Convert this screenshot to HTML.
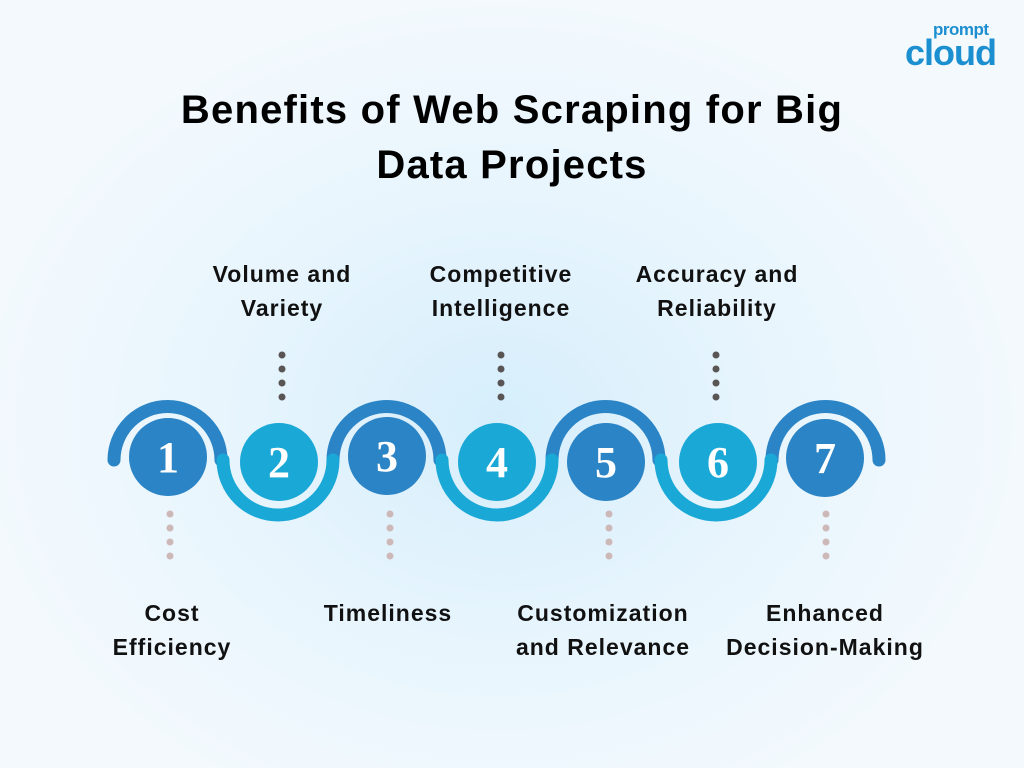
<!DOCTYPE html>
<html><head><style>
body{margin:0;width:1024px;height:768px;overflow:hidden;background:radial-gradient(ellipse 520px 420px at 500px 420px,#d6eefc 0%,#e8f5fd 55%,#f3f9fd 100%);font-family:"Liberation Sans",sans-serif;position:relative}
.t{position:absolute;left:0;width:1024px;text-align:center;font-weight:bold;font-size:40px;color:#000;letter-spacing:1.2px}
.l{position:absolute;width:240px;text-align:center;font-weight:bold;font-size:23px;line-height:34px;color:#111;letter-spacing:1px}
</style></head><body>
<div class="t" style="top:88px">Benefits of Web Scraping for Big</div>
<div class="t" style="top:143px;left:0">Data Projects</div>
<div style="position:absolute;left:905px;top:22px;color:#1c8fd0;font-weight:bold">
<div style="font-size:17px;line-height:16px;margin-left:28px;letter-spacing:-0.5px">prompt</div>
<div style="font-size:36px;line-height:30px;letter-spacing:-1px">cloud</div></div>
<svg width="1024" height="768" style="position:absolute;left:0;top:0">
<g fill="none" stroke-width="13" stroke-linecap="round">
<path d="M114 460 A53 53 0 0 1 221 460" stroke="#2a84c5"/>
<path d="M333 460 A53 53 0 0 1 440 460" stroke="#2a84c5"/>
<path d="M552 460 A53 53 0 0 1 659 460" stroke="#2a84c5"/>
<path d="M772 460 A53 53 0 0 1 879 460" stroke="#2a84c5"/>
<path d="M223 460 A55 55 0 0 0 333 460" stroke="#1aa8d6"/>
<path d="M442 460 A55 55 0 0 0 552 460" stroke="#1aa8d6"/>
<path d="M661 460 A55 55 0 0 0 771 460" stroke="#1aa8d6"/>
</g>
<g font-family="Liberation Serif,serif" font-weight="bold" font-size="44" fill="#fff" text-anchor="middle">
<circle cx="168" cy="457" r="39" fill="#2a84c5"/><text x="168" y="472">1</text>
<circle cx="279" cy="462" r="39" fill="#1aa8d6"/><text x="279" y="477">2</text>
<circle cx="387" cy="456" r="39" fill="#2a84c5"/><text x="387" y="471">3</text>
<circle cx="497" cy="462" r="39" fill="#1aa8d6"/><text x="497" y="477">4</text>
<circle cx="606" cy="462" r="39" fill="#2a84c5"/><text x="606" y="477">5</text>
<circle cx="718" cy="462" r="39" fill="#1aa8d6"/><text x="718" y="477">6</text>
<circle cx="825" cy="458" r="39" fill="#2a84c5"/><text x="825" y="473">7</text>
</g>
<g fill="#5a5555">
<circle cx="282" cy="355" r="3.5"/><circle cx="282" cy="369" r="3.5"/><circle cx="282" cy="383" r="3.5"/><circle cx="282" cy="397" r="3.5"/>
<circle cx="501" cy="355" r="3.5"/><circle cx="501" cy="369" r="3.5"/><circle cx="501" cy="383" r="3.5"/><circle cx="501" cy="397" r="3.5"/>
<circle cx="716" cy="355" r="3.5"/><circle cx="716" cy="369" r="3.5"/><circle cx="716" cy="383" r="3.5"/><circle cx="716" cy="397" r="3.5"/>
</g>
<g fill="#cdb8b8">
<circle cx="170" cy="514" r="3.5"/><circle cx="170" cy="528" r="3.5"/><circle cx="170" cy="542" r="3.5"/><circle cx="170" cy="556" r="3.5"/>
<circle cx="390" cy="514" r="3.5"/><circle cx="390" cy="528" r="3.5"/><circle cx="390" cy="542" r="3.5"/><circle cx="390" cy="556" r="3.5"/>
<circle cx="609" cy="514" r="3.5"/><circle cx="609" cy="528" r="3.5"/><circle cx="609" cy="542" r="3.5"/><circle cx="609" cy="556" r="3.5"/>
<circle cx="826" cy="514" r="3.5"/><circle cx="826" cy="528" r="3.5"/><circle cx="826" cy="542" r="3.5"/><circle cx="826" cy="556" r="3.5"/>
</g>
</svg>
<div class="l" style="left:162px;top:257px">Volume and<br>Variety</div>
<div class="l" style="left:381px;top:257px">Competitive<br>Intelligence</div>
<div class="l" style="left:597px;top:257px">Accuracy and<br>Reliability</div>
<div class="l" style="left:52px;top:596px">Cost<br>Efficiency</div>
<div class="l" style="left:268px;top:596px">Timeliness</div>
<div class="l" style="left:483px;top:596px">Customization<br>and Relevance</div>
<div class="l" style="left:705px;top:596px">Enhanced<br>Decision-Making</div>
</body></html>
